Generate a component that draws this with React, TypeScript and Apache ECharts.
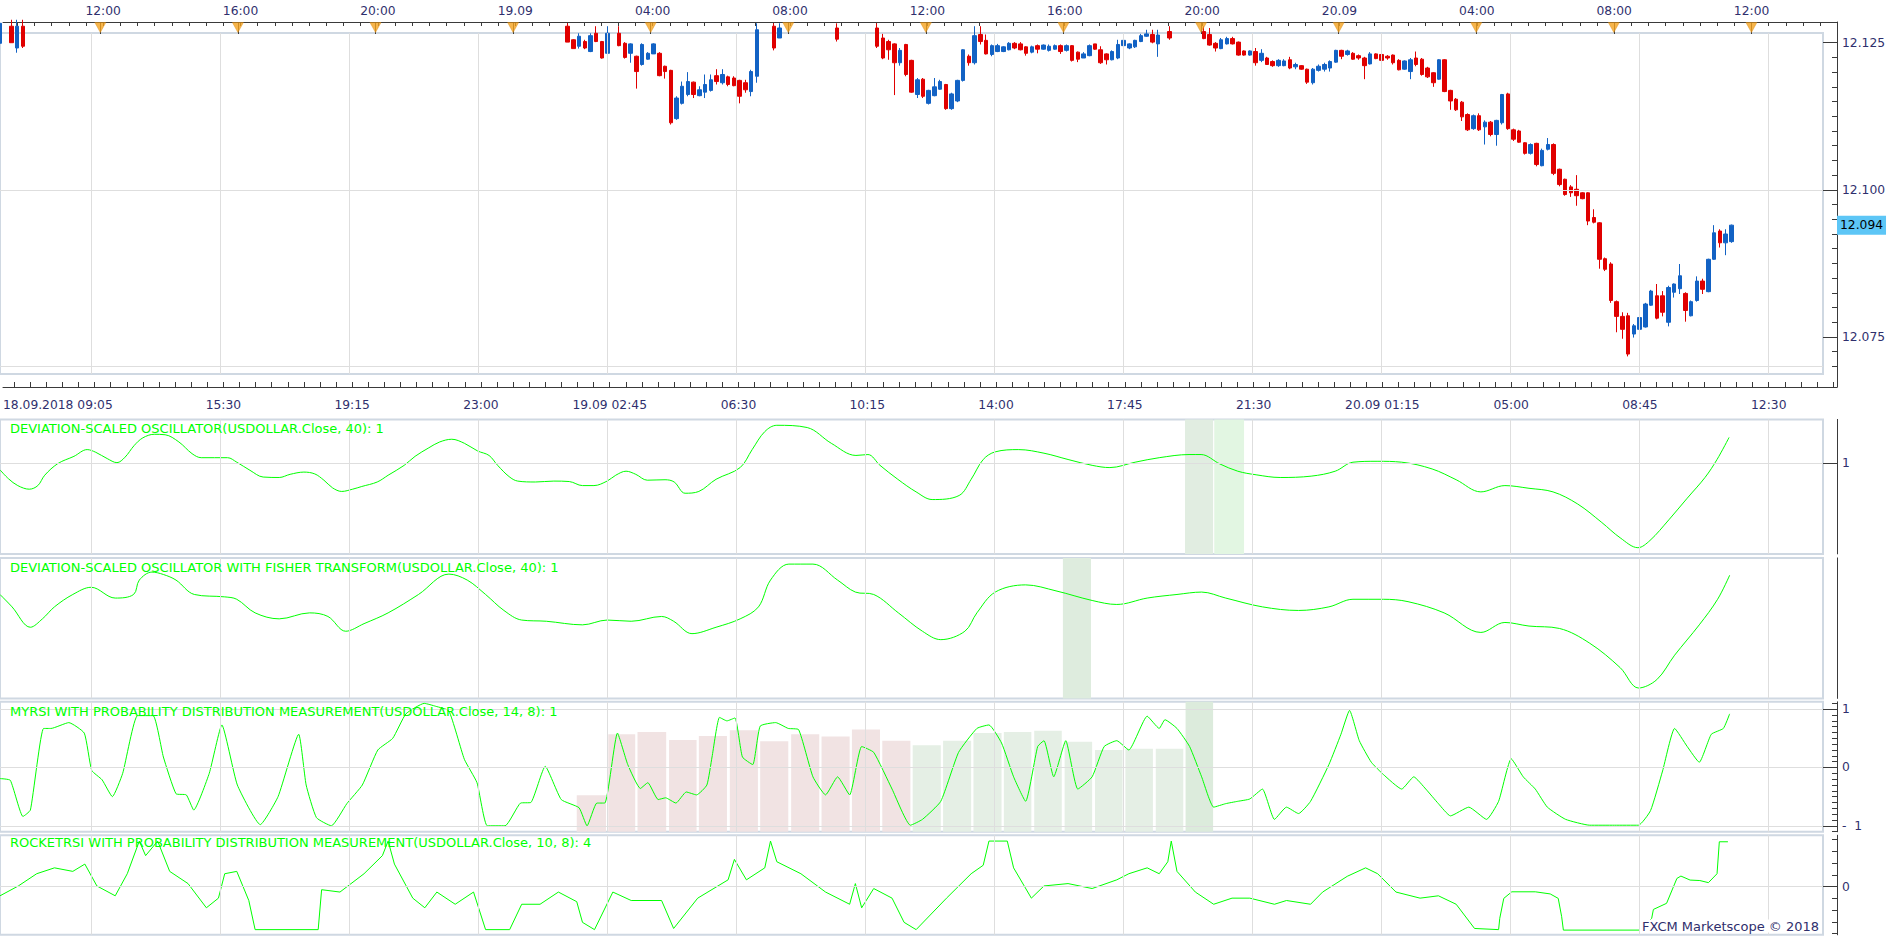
import React, { useEffect, useRef } from 'react';
import * as echarts from 'echarts';

// ---------------- data ----------------
// time values are minutes since 18.09.2018 09:05
const bottomLabels = ['18.09.2018 09:05', '15:30', '19:15', '23:00', '19.09 02:45', '06:30', '10:15', '14:00', '17:45', '21:30', '20.09 01:15', '05:00', '08:45', '12:30'];
const bottomLabelTimes = [0, 385, 610, 835, 1060, 1285, 1510, 1735, 1960, 2185, 2410, 2635, 2860, 3085];
const topLabels = ['12:00', '16:00', '20:00', '19.09', '04:00', '08:00', '12:00', '16:00', '20:00', '20.09', '04:00', '08:00', '12:00'];
const topLabelTimes = [175, 415, 655, 895, 1135, 1375, 1615, 1855, 2095, 2335, 2575, 2815, 3055];
const gridTimes = [160, 385, 610, 835, 1060, 1285, 1510, 1735, 1960, 2185, 2410, 2635, 2860, 3085];
const priceLabels = [12.075, 12.1, 12.125];
const lastPrice = 12.094;

// [time, open, close, low, high]
const candles = [
  [0, 12.1249, 12.1283, 12.1233, 12.1289], [20, 12.1278, 12.125, 12.125, 12.1289], [30, 12.1241, 12.1278, 12.1233, 12.1289], [40, 12.1278, 12.1244, 12.1241, 12.1289],
  [990, 12.1278, 12.1251, 12.1251, 12.1283], [1000, 12.1255, 12.124, 12.124, 12.1256], [1010, 12.1244, 12.1261, 12.124, 12.1266], [1020, 12.1252, 12.1241, 12.1239, 12.1255],
  [1030, 12.1235, 12.1262, 12.1234, 12.1266], [1040, 12.1266, 12.1252, 12.1251, 12.1278], [1050, 12.1252, 12.1224, 12.1223, 12.1253], [1060, 12.1232, 12.1266, 12.1231, 12.1278],
  [1080, 12.1266, 12.1245, 12.1244, 12.1278], [1090, 12.1249, 12.1225, 12.1223, 12.1251], [1100, 12.1232, 12.1248, 12.1216, 12.1249], [1110, 12.1227, 12.1201, 12.1172, 12.1228],
  [1120, 12.1213, 12.1247, 12.1211, 12.1249], [1130, 12.1222, 12.1232, 12.1221, 12.1234], [1140, 12.1231, 12.1248, 12.1231, 12.1249], [1150, 12.1232, 12.1194, 12.1193, 12.1234],
  [1160, 12.121, 12.1201, 12.1189, 12.1211], [1170, 12.1203, 12.1114, 12.1111, 12.1204], [1180, 12.1121, 12.1156, 12.1119, 12.1159], [1190, 12.1147, 12.1176, 12.1145, 12.1184],
  [1200, 12.1162, 12.1184, 12.1159, 12.12], [1210, 12.1183, 12.1162, 12.1156, 12.1184], [1220, 12.116, 12.117, 12.1159, 12.1176], [1230, 12.1166, 12.1179, 12.1156, 12.1196],
  [1240, 12.1169, 12.1187, 12.1167, 12.1196], [1250, 12.1194, 12.1184, 12.1179, 12.1205], [1260, 12.1182, 12.1196, 12.1179, 12.1205], [1270, 12.1192, 12.1179, 12.1176, 12.1194],
  [1280, 12.119, 12.1177, 12.1176, 12.1193], [1290, 12.1186, 12.1159, 12.1147, 12.1187], [1300, 12.1182, 12.117, 12.1165, 12.1187], [1310, 12.1167, 12.1201, 12.1159, 12.1204],
  [1320, 12.1193, 12.1272, 12.1182, 12.1283], [1350, 12.1278, 12.1241, 12.1237, 12.1283], [1360, 12.1258, 12.1275, 12.1258, 12.1283], [1460, 12.1275, 12.1256, 12.1252, 12.1283],
  [1530, 12.1275, 12.1244, 12.1241, 12.1283], [1540, 12.1258, 12.1224, 12.1222, 12.1265], [1550, 12.1252, 12.1238, 12.1221, 12.1255], [1560, 12.1248, 12.1216, 12.1161, 12.1249],
  [1570, 12.1216, 12.1237, 12.1211, 12.1241], [1580, 12.1247, 12.1196, 12.1193, 12.1248], [1590, 12.122, 12.1166, 12.1165, 12.1221], [1600, 12.1162, 12.1187, 12.1156, 12.119],
  [1610, 12.1188, 12.1159, 12.1156, 12.119], [1620, 12.1147, 12.1169, 12.1145, 12.117], [1630, 12.116, 12.1175, 12.1159, 12.119], [1640, 12.1171, 12.1184, 12.117, 12.1187],
  [1650, 12.1179, 12.1138, 12.1136, 12.118], [1660, 12.1138, 12.1163, 12.1136, 12.1165], [1670, 12.1151, 12.1186, 12.1149, 12.1187], [1680, 12.1186, 12.1238, 12.1184, 12.1239],
  [1690, 12.1227, 12.1216, 12.1211, 12.123], [1700, 12.1216, 12.1262, 12.1213, 12.1278], [1710, 12.1264, 12.1252, 12.1247, 12.1278], [1720, 12.1254, 12.1231, 12.123, 12.1264],
  [1730, 12.123, 12.1245, 12.1227, 12.1247], [1740, 12.1235, 12.1245, 12.1234, 12.1248], [1750, 12.1235, 12.1243, 12.1234, 12.1244], [1760, 12.1238, 12.1249, 12.1237, 12.1251],
  [1770, 12.1249, 12.1241, 12.1239, 12.1251], [1780, 12.1248, 12.1238, 12.1237, 12.1251], [1790, 12.1243, 12.1232, 12.1228, 12.1244], [1800, 12.1234, 12.1243, 12.1232, 12.1245],
  [1810, 12.1245, 12.1239, 12.1232, 12.1247], [1820, 12.1239, 12.1246, 12.1238, 12.1247], [1830, 12.1237, 12.1244, 12.1235, 12.1247], [1840, 12.1239, 12.1245, 12.1238, 12.1247],
  [1850, 12.1245, 12.1235, 12.1231, 12.1247], [1860, 12.1237, 12.1245, 12.1235, 12.1247], [1870, 12.1245, 12.122, 12.1218, 12.1246], [1880, 12.1234, 12.1222, 12.1217, 12.1235],
  [1890, 12.1224, 12.1231, 12.1224, 12.1234], [1900, 12.1228, 12.1245, 12.1227, 12.1247], [1910, 12.1248, 12.1239, 12.1238, 12.1248], [1920, 12.1238, 12.1216, 12.1214, 12.1244],
  [1930, 12.1231, 12.1221, 12.1213, 12.1232], [1940, 12.1221, 12.1235, 12.122, 12.1237], [1950, 12.1224, 12.1247, 12.1222, 12.1255], [1960, 12.1245, 12.1254, 12.1244, 12.1255],
  [1970, 12.1241, 12.1248, 12.1239, 12.1249], [1980, 12.1243, 12.1254, 12.1241, 12.1255], [1990, 12.1252, 12.1262, 12.1251, 12.1265], [2000, 12.1261, 12.1265, 12.126, 12.1272],
  [2010, 12.1264, 12.1251, 12.1249, 12.1272], [2020, 12.1248, 12.1263, 12.1226, 12.1272], [2040, 12.1269, 12.1258, 12.1255, 12.1278], [2100, 12.1269, 12.1257, 12.1256, 12.1278],
  [2110, 12.1264, 12.1246, 12.1245, 12.1275], [2120, 12.1249, 12.1241, 12.1235, 12.1251], [2130, 12.124, 12.1255, 12.1239, 12.1258], [2140, 12.1248, 12.1257, 12.1247, 12.126],
  [2150, 12.1257, 12.1248, 12.1247, 12.126], [2160, 12.1251, 12.1229, 12.1228, 12.1252], [2170, 12.1236, 12.1229, 12.1228, 12.1237], [2180, 12.1229, 12.1236, 12.1228, 12.1237],
  [2190, 12.1235, 12.1216, 12.1211, 12.1241], [2200, 12.122, 12.1232, 12.1217, 12.1239], [2210, 12.1224, 12.1213, 12.1213, 12.1226], [2220, 12.1218, 12.1211, 12.1209, 12.122],
  [2230, 12.1211, 12.122, 12.1209, 12.1222], [2240, 12.1211, 12.1219, 12.121, 12.1222], [2250, 12.1221, 12.1207, 12.1205, 12.1226], [2260, 12.1209, 12.1213, 12.1205, 12.1216],
  [2270, 12.1211, 12.1205, 12.1204, 12.1212], [2280, 12.1205, 12.1183, 12.118, 12.1206], [2290, 12.1182, 12.1205, 12.1179, 12.1207], [2300, 12.1203, 12.121, 12.1201, 12.1213],
  [2310, 12.1205, 12.1213, 12.1201, 12.1216], [2320, 12.1207, 12.1218, 12.1201, 12.122], [2330, 12.1217, 12.1237, 12.1216, 12.1238], [2340, 12.1237, 12.1227, 12.1222, 12.1238],
  [2350, 12.123, 12.1236, 12.1228, 12.1238], [2360, 12.1232, 12.1222, 12.1221, 12.1234], [2370, 12.1228, 12.1224, 12.1221, 12.123], [2380, 12.1224, 12.1211, 12.1188, 12.1226],
  [2390, 12.1214, 12.1231, 12.1213, 12.1234], [2400, 12.1231, 12.1223, 12.1222, 12.1232], [2410, 12.123, 12.122, 12.1211, 12.1231], [2420, 12.1227, 12.1224, 12.1221, 12.1229],
  [2430, 12.1229, 12.1216, 12.1213, 12.123], [2440, 12.122, 12.1204, 12.1203, 12.1222], [2450, 12.1205, 12.1219, 12.1204, 12.122], [2460, 12.1201, 12.1221, 12.1188, 12.1224],
  [2470, 12.1224, 12.1213, 12.121, 12.1235], [2480, 12.1222, 12.1196, 12.1194, 12.1224], [2490, 12.1207, 12.1192, 12.119, 12.1209], [2500, 12.1199, 12.1182, 12.1175, 12.12],
  [2510, 12.1188, 12.1221, 12.1187, 12.1222], [2520, 12.1221, 12.1167, 12.1166, 12.1222], [2530, 12.1169, 12.1151, 12.1136, 12.117], [2540, 12.1154, 12.1136, 12.1134, 12.1156],
  [2550, 12.1149, 12.1124, 12.1117, 12.1151], [2560, 12.1128, 12.1102, 12.11, 12.113], [2570, 12.1104, 12.1126, 12.1102, 12.1128], [2580, 12.1126, 12.1102, 12.11, 12.113],
  [2590, 12.1107, 12.1115, 12.1077, 12.1118], [2600, 12.1115, 12.1094, 12.1091, 12.1117], [2610, 12.1094, 12.1118, 12.1075, 12.1119], [2620, 12.1114, 12.1162, 12.1111, 12.1163],
  [2630, 12.1163, 12.1104, 12.1102, 12.1165], [2640, 12.1102, 12.1086, 12.1083, 12.1104], [2650, 12.11, 12.1081, 12.108, 12.1102], [2660, 12.108, 12.1062, 12.106, 12.1081],
  [2670, 12.1062, 12.1077, 12.106, 12.1079], [2680, 12.1079, 12.1043, 12.104, 12.108], [2690, 12.1041, 12.1067, 12.104, 12.107], [2700, 12.1069, 12.1077, 12.1067, 12.1088],
  [2710, 12.1077, 12.1028, 12.1025, 12.1079], [2720, 12.1035, 12.1009, 12.1006, 12.1036], [2730, 12.1018, 12.0992, 12.099, 12.1019], [2740, 12.1005, 12.0995, 12.0988, 12.1008],
  [2750, 12.1001, 12.099, 12.0973, 12.1025], [2760, 12.0995, 12.0985, 12.0984, 12.0996], [2770, 12.0995, 12.0947, 12.094, 12.0996], [2780, 12.0953, 12.0945, 12.0943, 12.0967],
  [2790, 12.0944, 12.0882, 12.0866, 12.0945], [2800, 12.0883, 12.0865, 12.0862, 12.0885], [2810, 12.0874, 12.0812, 12.0808, 12.0877], [2820, 12.081, 12.0785, 12.0758, 12.0812],
  [2830, 12.0785, 12.0763, 12.0747, 12.0792], [2840, 12.0786, 12.0721, 12.0717, 12.0791], [2850, 12.0755, 12.0769, 12.0749, 12.0772], [2860, 12.0763, 12.0783, 12.0757, 12.0786],
  [2870, 12.0767, 12.0806, 12.0766, 12.0808], [2880, 12.0804, 12.0828, 12.0803, 12.083], [2890, 12.082, 12.0782, 12.078, 12.084], [2900, 12.082, 12.0792, 12.0785, 12.0828],
  [2910, 12.0775, 12.0834, 12.0768, 12.0837], [2920, 12.0826, 12.084, 12.0817, 12.0841], [2930, 12.0832, 12.0854, 12.0823, 12.0874], [2940, 12.0824, 12.0795, 12.0776, 12.0826],
  [2950, 12.0786, 12.081, 12.0785, 12.0812], [2960, 12.0812, 12.0845, 12.081, 12.0853], [2970, 12.0845, 12.0831, 12.0823, 12.0849], [2980, 12.0827, 12.0882, 12.0826, 12.0883],
  [2990, 12.0882, 12.0927, 12.0881, 12.094], [3000, 12.093, 12.091, 12.0902, 12.0933], [3010, 12.091, 12.0925, 12.0889, 12.0933], [3020, 12.0912, 12.094, 12.091, 12.0941],
];

// Deviation-scaled oscillator [time, value]
const dsoLine = [
  [0, 0.85], [15, 0.65], [31, 0.5], [51, 0.42], [66, 0.5], [78, 0.73], [101, 0.99], [129, 1.15], [152, 1.3], [167, 1.24], [187, 1.1], [204, 1.01], [218, 1.13],
  [234, 1.39], [249, 1.56], [269, 1.64], [288, 1.63], [312, 1.47], [335, 1.21], [351, 1.12], [397, 1.12], [413, 1.02], [436, 0.84], [459, 0.69], [487, 0.68],
  [506, 0.75], [530, 0.8], [549, 0.76], [565, 0.62], [580, 0.45], [596, 0.37], [615, 0.42], [631, 0.48], [658, 0.58], [677, 0.73], [705, 0.95], [724, 1.15],
  [748, 1.34], [767, 1.47], [788, 1.53], [810, 1.44], [833, 1.27], [853, 1.17], [868, 0.95], [888, 0.7], [903, 0.6], [934, 0.58], [966, 0.6], [993, 0.59],
  [1016, 0.5], [1036, 0.5], [1059, 0.6], [1074, 0.73], [1092, 0.82], [1109, 0.75], [1129, 0.62], [1160, 0.63], [1176, 0.58], [1195, 0.33], [1219, 0.37],
  [1249, 0.64], [1291, 0.9], [1312, 1.3], [1334, 1.7], [1355, 1.84], [1408, 1.79], [1450, 1.44], [1493, 1.17], [1514, 1.19], [1535, 0.95], [1566, 0.64],
  [1598, 0.36], [1626, 0.19], [1673, 0.28], [1694, 0.64], [1715, 1.08], [1736, 1.25], [1777, 1.3], [1821, 1.22], [1863, 1.08], [1905, 0.95], [1936, 0.9],
  [1980, 1.02], [2022, 1.12], [2074, 1.19], [2095, 1.19], [2128, 0.98], [2159, 0.82], [2191, 0.74], [2233, 0.68], [2287, 0.71], [2329, 0.82], [2360, 1.02],
  [2402, 1.04], [2445, 1.02], [2498, 0.87], [2540, 0.63], [2583, 0.36], [2625, 0.5], [2667, 0.44], [2709, 0.36], [2752, 0.09], [2794, -0.32], [2826, -0.66],
  [2857, -0.88], [2878, -0.72], [2911, -0.26], [2943, 0.22], [2974, 0.68], [2995, 1.08], [3016, 1.57],
];
const dsoBandStart = [2067, 2118];
const dsoBandEnd = [2116, 2170];

// DSO with Fisher transform [time, value]
const fisherLine = [
  [0, 0.8], [21, 0.49], [53, -0.02], [74, 0.19], [95, 0.49], [127, 0.8], [159, 0.98], [201, 0.71], [233, 0.8], [243, 1.16], [265, 1.36], [285, 1.3], [307, 1.16], [339, 0.8],
  [392, 0.74], [413, 0.68], [445, 0.34], [487, 0.19], [540, 0.34], [572, 0.25], [603, -0.12], [635, 0.07], [677, 0.34], [730, 0.8], [783, 1.31], [815, 1.16],
  [847, 0.8], [879, 0.4], [910, 0.16], [953, 0.13], [1016, 0.04], [1059, 0.16], [1101, 0.13], [1154, 0.25], [1175, 0.13], [1207, -0.18], [1249, -0.02],
  [1291, 0.19], [1323, 0.49], [1344, 1.16], [1376, 1.56], [1418, 1.56], [1461, 1.16], [1492, 0.86], [1524, 0.8], [1567, 0.34], [1609, -0.12], [1641, -0.33],
  [1683, -0.12], [1704, 0.34], [1736, 0.86], [1789, 1.04], [1842, 0.89], [1905, 0.65], [1948, 0.55], [2001, 0.71], [2053, 0.8], [2096, 0.86], [2138, 0.71],
  [2202, 0.49], [2265, 0.4], [2318, 0.49], [2360, 0.68], [2413, 0.68], [2456, 0.62], [2519, 0.34], [2583, -0.15], [2625, 0.1], [2667, 0.01], [2720, -0.05],
  [2773, -0.42], [2826, -1.03], [2858, -1.54], [2890, -1.33], [2921, -0.72], [2964, 0.04], [2996, 0.68], [3017, 1.28],
];
const fisherBandStart = [1854];
const fisherBandEnd = [1903];

// MyRSI [time, value]
const myRsiLine = [
  [0, -0.19], [18, -0.22], [40, -0.84], [53, -0.73], [76, 0.67], [89, 0.67], [120, 0.77], [147, 0.59], [160, -0.05], [178, -0.21], [196, -0.5], [214, -0.1],
  [240, 0.89], [267, 0.89], [285, 0.18], [307, -0.45], [325, -0.47], [338, -0.73], [365, -0.1], [387, 0.73], [414, -0.3], [454, -0.98], [485, -0.5], [521, 0.57],
  [534, -0.3], [552, -0.86], [578, -1.0], [605, -0.62], [632, -0.3], [659, 0.3], [685, 0.5], [708, 0.92], [740, 1.1], [760, 1.05], [783, 0.97], [810, 0.14],
  [832, -0.26], [850, -1.0], [881, -1.0], [908, -0.61], [926, -0.6], [951, 0.02], [979, -0.55], [1010, -0.69], [1024, -1.0], [1041, -0.61], [1055, -0.61],
  [1077, 0.59], [1095, 0.05], [1117, -0.36], [1130, -0.26], [1148, -0.55], [1161, -0.52], [1179, -0.61], [1197, -0.42], [1215, -0.47], [1233, -0.3], [1242, 0.18],
  [1255, 0.86], [1268, 0.8], [1282, 0.85], [1295, 0.18], [1313, 0.05], [1326, 0.71], [1353, 0.77], [1375, 0.67], [1393, 0.65], [1418, -0.16], [1440, -0.47],
  [1461, -0.16], [1482, -0.47], [1503, 0.36], [1524, 0.26], [1556, -0.37], [1588, -0.99], [1609, -0.89], [1641, -0.58], [1672, 0.26], [1704, 0.67], [1725, 0.73],
  [1747, 0.42], [1768, -0.16], [1789, -0.58], [1810, 0.36], [1821, 0.46], [1838, -0.16], [1859, 0.46], [1880, -0.37], [1905, -0.16], [1926, 0.36], [1948, 0.46],
  [1969, 0.3], [2001, 0.88], [2022, 0.67], [2032, 0.82], [2053, 0.67], [2075, 0.36], [2096, -0.16], [2117, -0.68], [2138, -0.62], [2159, -0.58], [2180, -0.54],
  [2202, -0.37], [2223, -0.89], [2244, -0.68], [2265, -0.79], [2286, -0.58], [2318, 0.05], [2339, 0.57], [2354, 0.98], [2371, 0.46], [2392, 0.09], [2413, -0.12],
  [2445, -0.37], [2466, -0.16], [2487, -0.37], [2509, -0.62], [2530, -0.83], [2562, -0.68], [2593, -0.89], [2614, -0.58], [2636, 0.15], [2657, -0.16],
  [2678, -0.37], [2699, -0.68], [2731, -0.89], [2773, -0.99], [2816, -0.99], [2858, -0.99], [2879, -0.74], [2900, -0.06], [2921, 0.67], [2943, 0.36],
  [2964, 0.09], [2985, 0.57], [3006, 0.67], [3017, 0.92],
];
// probability distribution histogram (0 = falling/pink, 1 = rising/green)
const histStart = [1006, 1061, 1112, 1167, 1219, 1273, 1326, 1380, 1433, 1486, 1539, 1592, 1645, 1698, 1751, 1804, 1857, 1910, 1963, 2016];
const histEnd = [1057, 1108, 1162, 1215, 1268, 1322, 1375, 1429, 1482, 1535, 1588, 1641, 1694, 1747, 1799, 1852, 1905, 1958, 2011, 2064];
const histValue = [-0.475, 0.57, 0.61, 0.47, 0.54, 0.64, 0.45, 0.57, 0.53, 0.65, 0.46, 0.38, 0.46, 0.59, 0.61, 0.63, 0.44, 0.3, 0.32, 0.32];
const histKind = [0, 0, 0, 0, 0, 0, 0, 0, 0, 0, 0, 1, 1, 1, 1, 1, 1, 1, 1, 1];
const myRsiBandStart = [2068];
const myRsiBandEnd = [2116];

// RocketRSI [time, value]
const rocketLine = [
  [0, -0.39], [32, 0.03], [64, 0.55], [95, 0.8], [127, 0.65], [148, 0.96], [169, 0.03], [201, -0.39], [222, 0.55], [243, 1.94], [254, 1.32], [275, 1.94],
  [296, 0.65], [328, 0.13], [360, -0.9], [381, -0.49], [392, 0.55], [413, 0.65], [434, -0.59], [445, -1.83], [555, -1.83], [561, -0.13], [593, -0.23],
  [635, 0.55], [667, 1.32], [677, 1.94], [688, 0.96], [720, -0.49], [741, -0.9], [762, -0.23], [794, -0.75], [826, -0.23], [847, -1.83], [889, -1.83],
  [910, -0.75], [942, -0.75], [974, -0.23], [1006, -0.64], [1016, -1.52], [1037, -1.83], [1069, -0.23], [1101, -0.59], [1154, -0.59], [1175, -1.78],
  [1217, -0.49], [1270, 0.29], [1281, 1.16], [1302, 0.29], [1334, 0.8], [1344, 1.94], [1355, 1.06], [1397, 0.55], [1440, -0.23], [1482, -0.75], [1492, 0.13],
  [1503, -0.9], [1524, -0.08], [1556, -0.49], [1577, -1.52], [1598, -1.83], [1651, -0.49], [1694, 0.55], [1715, 0.91], [1725, 1.94], [1757, 1.94], [1768, 0.8],
  [1799, -0.49], [1821, 0.03], [1863, 0.13], [1905, -0.08], [1948, 0.29], [1969, 0.55], [2001, 0.8], [2022, 0.55], [2037, 1.06], [2043, 1.94], [2053, 0.65],
  [2085, -0.23], [2117, -0.75], [2149, -0.49], [2180, -0.49], [2223, -0.75], [2244, -0.59], [2286, -0.75], [2307, -0.23], [2350, 0.44], [2382, 0.8],
  [2403, 0.55], [2435, -0.23], [2477, -0.49], [2509, -0.39], [2540, -0.75], [2572, -1.78], [2614, -1.83], [2616, -1.35], [2623, -0.5], [2637, -0.22],
  [2678, -0.22], [2704, -0.31], [2718, -0.5], [2724, -1.28], [2727, -1.85], [2861, -1.85], [2881, -1.35], [2884, -0.97], [2907, -0.71], [2925, 0.35],
  [2932, 0.45], [2948, 0.28], [2965, 0.26], [2980, 0.17], [2995, 0.55], [2999, 1.91], [3014, 1.91],
];

const panelTitles = [
  'DEVIATION-SCALED OSCILLATOR(USDOLLAR.Close, 40): 1',
  'DEVIATION-SCALED OSCILLATOR WITH FISHER TRANSFORM(USDOLLAR.Close, 40): 1',
  'MYRSI WITH PROBABILITY DISTRIBUTION MEASUREMENT(USDOLLAR.Close, 14, 8): 1',
  'ROCKETRSI WITH PROBABILITY DISTRIBUTION MEASUREMENT(USDOLLAR.Close, 10, 8): 4',
];
const copyright = 'FXCM Marketscope \u00a9 2018';

// ---------------- layout / style ----------------
const W = 1903;
const PX_PER_MIN = 0.5733;
const PLOT_W = 1823;
const FRAME_W = 1837;
const X_MAX = PLOT_W / PX_PER_MIN;
const X_MAX_WIDE = FRAME_W / PX_PER_MIN;
const FONT = 'DejaVu Sans';
const AXIS_TEXT = '#2f2f6d';
const AXIS_LINE = '#3a3a3a';
const GRID_LINE = '#dedede';
const FRAME = '#cfd8e2';
const GREEN = '#00ff00';
const BLUE = '#1262c4';
const RED = '#e00000';

const MAIN_RANGE = [12.06871, 12.12665];
const P1_RANGE = [-1.018, 1.971];
const P2_RANGE = [-1.8, 1.715];
const P3_RANGE = [-1.103, 1.127];
const P4_RANGE = [-2.05, 2.19];

const panelGrids = [
  { top: 419.4, height: 134.5 },
  { top: 557.9, height: 140.5 },
  { top: 701.8, height: 130 },
  { top: 835.2, height: 99.6 },
];
const titleTops = [421.5, 561, 705, 835.5];

const labelStyle = { color: AXIS_TEXT, fontSize: 12.3, fontFamily: FONT };

function range(from: number, to: number, step: number) {
  const out: number[] = [];
  for (let v = from; v <= to + 1e-9; v += step) out.push(Math.round(v * 10000) / 10000);
  return out;
}

function hiddenX(gridIndex: number) {
  return { type: 'value', gridIndex, min: 0, max: X_MAX, show: false };
}

function rightAxis(gridIndex: number, r: number[], opts: any) {
  return {
    type: 'value', gridIndex, position: 'right', offset: FRAME_W - PLOT_W, min: r[0], max: r[1],
    axisLine: { show: !!opts.line, onZero: false, lineStyle: { color: AXIS_LINE } },
    axisTick: opts.ticks ? { show: true, inside: true, length: opts.tickLen, customValues: opts.ticks, lineStyle: { color: AXIS_LINE } } : { show: false },
    axisLabel: opts.labels ? { show: true, customValues: opts.labels, formatter: opts.fmt, margin: 5, ...labelStyle, ...(opts.labelExtra || {}) } : { show: false },
    splitLine: { show: false },
  };
}

function gridLineSeries(xIdx: number, yIdx: number, yValues: number[]) {
  return {
    type: 'line', xAxisIndex: xIdx, yAxisIndex: yIdx, data: [], silent: true, z: 1,
    markLine: {
      silent: true, symbol: ['none', 'none'], animation: false, label: { show: false },
      lineStyle: { color: GRID_LINE, width: 1, type: 'solid' },
      emphasis: { disabled: true },
      data: [...gridTimes.map((t) => ({ xAxis: t })), ...yValues.map((v) => ({ yAxis: v }))],
    },
  };
}

function fullBandSeries(xIdx: number, yIdx: number, starts: number[], ends: number[], colors: string[]) {
  return {
    type: 'custom', xAxisIndex: xIdx, yAxisIndex: yIdx, silent: true, z: 0,
    data: starts.map((s, i) => [s, ends[i], i]),
    renderItem: (params: any, api: any) => {
      const cs = params.coordSys;
      const a = api.coord([api.value(0), 0]);
      const b = api.coord([api.value(1), 0]);
      return { type: 'rect', shape: { x: a[0], y: cs.y, width: b[0] - a[0], height: cs.height }, style: { fill: colors[api.value(2)] } };
    },
  };
}

function histSeries(xIdx: number, yIdx: number, base: number, colors: string[]) {
  return {
    type: 'custom', xAxisIndex: xIdx, yAxisIndex: yIdx, silent: true, z: 0,
    data: histStart.map((s, i) => [s, histEnd[i], histValue[i], histKind[i]]),
    renderItem: (params: any, api: any) => {
      const a = api.coord([api.value(0), api.value(2)]);
      const b = api.coord([api.value(1), base]);
      return { type: 'rect', shape: { x: a[0], y: a[1], width: b[0] - a[0], height: b[1] - a[1] }, style: { fill: colors[api.value(3)] } };
    },
  };
}

function lineSeries(xIdx: number, yIdx: number, data: number[][], smooth: number) {
  return {
    type: 'line', xAxisIndex: xIdx, yAxisIndex: yIdx, data, showSymbol: false, symbol: 'none', z: 3, clip: true, silent: true,
    smooth: smooth || false,
    lineStyle: { color: GREEN, width: 1 },
  };
}

function buildOption() {
  const gridBase = { left: 0, width: PLOT_W, show: true, borderColor: FRAME, borderWidth: 2, backgroundColor: '#fff' };
  const grid = [
    { left: 0, top: 22, width: FRAME_W, height: 365, show: false },
    { ...gridBase, top: 33, height: 341 },
    ...panelGrids.map((g) => ({ ...gridBase, top: g.top, height: g.height })),
    { left: 0, top: 22, width: FRAME_W, height: 11, show: false },
  ];

  const xAxis = [
    // 0: top time axis
    {
      type: 'value', gridIndex: 0, position: 'top', min: 0, max: X_MAX_WIDE,
      axisLine: { show: true, onZero: false, lineStyle: { color: AXIS_LINE } },
      axisTick: { show: true, inside: true, length: 4, customValues: range(25, X_MAX_WIDE, 30), lineStyle: { color: AXIS_LINE } },
      axisLabel: { show: true, customValues: topLabelTimes, formatter: (v: number) => topLabels[topLabelTimes.indexOf(v)] ?? '', margin: 5, ...labelStyle },
      splitLine: { show: false },
    },
    // 1: bottom time axis
    {
      type: 'value', gridIndex: 0, position: 'bottom', min: 0, max: X_MAX_WIDE,
      axisLine: { show: true, onZero: false, lineStyle: { color: AXIS_LINE } },
      axisTick: { show: true, inside: true, length: 5, customValues: range(160 - 5 * 28.125, X_MAX_WIDE, 28.125), lineStyle: { color: AXIS_LINE } },
      axisLabel: { show: true, customValues: bottomLabelTimes.slice(1), formatter: (v: number) => bottomLabels[bottomLabelTimes.indexOf(v)] ?? '', margin: 12, ...labelStyle },
      splitLine: { show: false },
    },
    // 2: first (left aligned) bottom label
    {
      type: 'value', gridIndex: 0, position: 'bottom', min: 0, max: X_MAX_WIDE,
      axisLine: { show: false, onZero: false }, axisTick: { show: false },
      axisLabel: { show: true, customValues: [bottomLabelTimes[0]], formatter: () => bottomLabels[0], align: 'left', margin: 12, ...labelStyle },
      splitLine: { show: false },
    },
    hiddenX(1), hiddenX(2), hiddenX(3), hiddenX(4), hiddenX(5),
    // 8: strip with long ticks under top labels
    {
      type: 'value', gridIndex: 6, position: 'top', min: 0, max: X_MAX_WIDE,
      axisLine: { show: false, onZero: false },
      axisTick: { show: true, inside: true, length: 12, customValues: topLabelTimes, lineStyle: { color: AXIS_LINE } },
      axisLabel: { show: false }, splitLine: { show: false },
    },
  ];

  const yAxis = [
    // 0 frame right line
    {
      type: 'value', gridIndex: 0, position: 'right', min: 0, max: 1,
      axisLine: { show: true, onZero: false, lineStyle: { color: AXIS_LINE } }, axisTick: { show: false }, axisLabel: { show: false }, splitLine: { show: false },
    },
    // 1 main majors
    rightAxis(1, MAIN_RANGE, { ticks: priceLabels, tickLen: 14, labels: priceLabels, fmt: (v: number) => v.toFixed(3) }),
    // 2 main minors
    rightAxis(1, MAIN_RANGE, { ticks: range(12.07, 12.1265, 0.0025).filter((v) => !priceLabels.includes(v)), tickLen: 5 }),
    // 3 last price tag
    rightAxis(1, MAIN_RANGE, {
      labels: [lastPrice], fmt: (v: number) => v.toFixed(3),
      labelExtra: { margin: 0, color: '#000', backgroundColor: '#5dc6f6', padding: [4, 3, 3, 3] },
    }),
    // 4 panel 1
    rightAxis(2, P1_RANGE, { line: true, ticks: [1], tickLen: 14, labels: [1], fmt: (v: number) => String(v) }),
    // 5 panel 2
    rightAxis(3, P2_RANGE, { line: true }),
    // 6 panel 3 majors
    rightAxis(4, P3_RANGE, { line: true, ticks: [-1, 0, 1], tickLen: 14, labels: [-1, 0, 1], fmt: (v: number) => (v < 0 ? '-  1' : String(v)) }),
    // 7 panel 3 minors
    rightAxis(4, P3_RANGE, { ticks: range(-1.1, 1.1, 0.1).filter((v) => ![-1, 0, 1].includes(v)), tickLen: 5 }),
    // 8 panel 4 majors
    rightAxis(5, P4_RANGE, { line: true, ticks: [0], tickLen: 14, labels: [0], fmt: (v: number) => String(v) }),
    // 9 panel 4 minors
    rightAxis(5, P4_RANGE, { ticks: [-2, -1.5, -1, -0.5, 0.5, 1, 1.5, 2], tickLen: 5 }),
    // 10 strip
    { type: 'value', gridIndex: 6, min: 0, max: 1, show: false },
  ];

  const series: any[] = [
    gridLineSeries(3, 1, priceLabels),
    {
      type: 'candlestick', xAxisIndex: 3, yAxisIndex: 1, data: candles, encode: { x: 0, y: [1, 2, 3, 4] },
      barWidth: 4, clip: true, z: 2, silent: true,
      itemStyle: { color: BLUE, color0: RED, borderColor: BLUE, borderColor0: RED, borderWidth: 1 },
    },
    fullBandSeries(4, 4, dsoBandStart, dsoBandEnd, ['#e1ede1', '#e2f6e2']),
    gridLineSeries(4, 4, [1]),
    lineSeries(4, 4, dsoLine, 0.35),
    fullBandSeries(5, 5, fisherBandStart, fisherBandEnd, ['#deecde']),
    gridLineSeries(5, 5, []),
    lineSeries(5, 5, fisherLine, 0.35),
    histSeries(6, 6, P3_RANGE[0], ['#f1e3e3', '#e5efe5']),
    fullBandSeries(6, 6, myRsiBandStart, myRsiBandEnd, ['#dcebdc']),
    gridLineSeries(6, 6, [-1, 0, 1]),
    lineSeries(6, 6, myRsiLine, 0.15),
    gridLineSeries(7, 8, [0]),
    lineSeries(7, 8, rocketLine, 0),
    {
      type: 'scatter', xAxisIndex: 8, yAxisIndex: 10, data: topLabelTimes.map((t) => [t, 0.5]), silent: true, z: 5,
      symbol: 'triangle', symbolRotate: 180, symbolSize: [11, 10], itemStyle: { color: '#f5a21e', borderColor: '#d98a10', borderWidth: 0.5 },
    },
  ];

  const title: any[] = panelTitles.map((t, i) => ({
    text: t, left: 10, top: titleTops[i], padding: 0,
    textStyle: { color: GREEN, fontSize: 13, fontWeight: 'normal', fontFamily: FONT },
  }));
  title.push({
    text: copyright, right: W - 1821, top: 919.5, padding: [0, 2], backgroundColor: '#fff',
    textStyle: { color: AXIS_TEXT, fontSize: 13, fontWeight: 'normal', fontFamily: FONT },
  });

  return {
    animation: false,
    backgroundColor: '#fff',
    textStyle: { fontFamily: FONT },
    title,
    grid,
    xAxis,
    yAxis,
    series,
  };
}

export default function App() {
  const ref = useRef<HTMLDivElement>(null);
  useEffect(() => {
    if (!ref.current) return;
    const chart = echarts.init(ref.current, null, { renderer: 'svg' });
    chart.setOption(buildOption() as any);
    return () => chart.dispose();
  }, []);
  return <div ref={ref} style={{ position: 'absolute', left: 0, top: 0, width: 1903, height: 937, background: '#fff' }} />;
}
